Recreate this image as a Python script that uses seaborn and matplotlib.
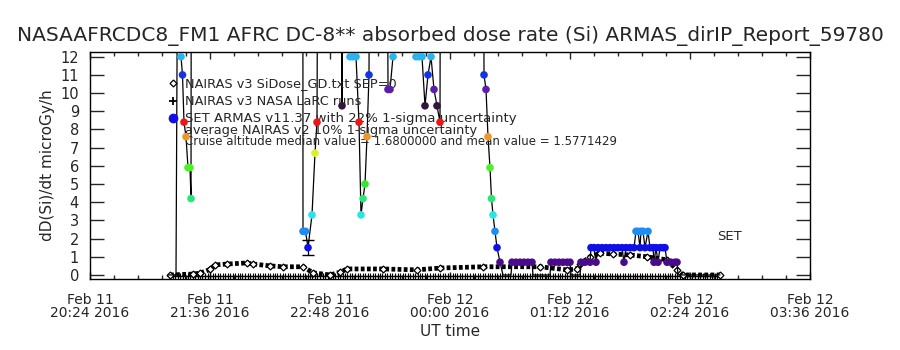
import matplotlib
matplotlib.use("Agg")
import matplotlib.pyplot as plt
import matplotlib.dates as mdates
import numpy as np
import pandas as pd
import seaborn as sns

# ---------------------------------------------------------------------------
# data (times are minutes after Feb 11 2016 20:24 UT)
# ---------------------------------------------------------------------------
t0 = pd.Timestamp("2016-02-11 20:24")

armas_min = [46.8, 49.2, 51.6, 53.7, 54.6, 55.5, 56.4, 57.6, 58.8, 60.0, 60.6, 61.0,
             127.6, 127.8, 129.3, 130.8, 133.2, 135.0, 136.2, 137.4,
             150.9, 151.2, 151.5, 155.4, 156.0, 157.8, 159.6, 161.4, 162.6, 163.8,
             165.0, 166.2, 167.4, 168.6,
             177.6, 178.8, 180.0, 181.8, 182.4,
             194.4, 195.6, 197.4, 199.2, 201.0, 202.8, 204.6, 206.4, 208.2, 210.0, 210.6,
             235.8, 236.4, 237.6, 238.8, 240.0, 240.9, 241.8, 243.0, 244.2, 246.0,
             247.8, 252.6, 253.2, 255.6, 258.0, 260.4, 262.8, 265.2, 265.8,
             276.0, 276.6, 279.0, 281.4, 283.8, 286.2, 288.0, 288.6,
             294.0, 294.6, 297.0, 300.0, 300.6, 302.4, 303.6, 304.8, 307.2, 309.6,
             312.0, 314.4, 316.8, 319.2, 320.4, 321.6, 324.0, 326.4, 327.6, 328.8,
             330.0, 330.6, 331.8, 333.0, 334.8, 336.0, 337.8, 338.4, 339.6, 340.8,
             342.0, 343.8, 345.0, 346.2, 348.6, 351.0, 352.2, 352.8, 366.0, 378.0]
armas_val = [0, 0, 0, 40, 12.0, 11.0, 8.4, 7.6, 5.9, 5.9, 4.2, 40,
             40, 2.4, 2.4, 1.5, 3.3, 6.7, 8.4, 40,
             40, 9.3, 40, 40, 12.0, 12.0, 12.0, 8.4, 3.3, 4.2,
             5.0, 7.6, 11.0, 40,
             40, 10.2, 10.2, 12.0, 40,
             40, 12.0, 12.0, 12.0, 9.3, 11.0, 12.0, 10.2, 9.3, 8.4, 40,
             40, 11.0, 10.2, 7.6, 5.9, 4.2, 3.3, 2.4, 1.5, 0.7,
             0, 0, 0.7, 0.7, 0.7, 0.7, 0.7, 0.7, 0,
             0, 0.7, 0.7, 0.7, 0.7, 0.7, 0.7, 0,
             0, 0.7, 0.7, 0.7, 1.5, 1.5, 0.7, 1.5, 1.5, 1.5,
             1.5, 1.5, 1.5, 1.5, 0.7, 1.5, 1.5, 1.5, 2.4, 2.4,
             1.5, 2.4, 2.4, 1.5, 2.4, 1.5, 1.5, 0.7, 1.5, 0.7,
             1.5, 1.5, 1.5, 0.7, 0.7, 0.7, 0.7, 0, 0, 0]

# single visible 22% uncertainty bar
err_min = [130.8]
err_val = [1.5]
err_sig = [0.4]

nairas_min = [48, 61.8, 66, 72, 75, 82.2, 94.2, 97.8, 108, 115.8, 127.8, 133.8, 144,
              150, 154.2, 175.8, 196.2, 210, 235.8, 270, 286.2, 292.2, 294, 300,
              306, 313.8, 324, 334.2, 346.2, 352.2, 355.8, 378]
nairas_val = [0.0, 0.05, 0.1, 0.3, 0.55, 0.6, 0.66, 0.6, 0.5, 0.45, 0.45, 0.12, 0.0,
              0.15, 0.33, 0.33, 0.28, 0.38, 0.45, 0.45, 0.28, 0.33, 0.6, 1.0,
              1.2, 1.15, 1.1, 1.0, 0.83, 0.28, 0.0, 0.0]

larc_min = np.arange(48, 378, 1.5)
larc_val = np.full(larc_min.size, -0.05)

# colour levels of ARMAS points (dose level step ~0.84)
level_colors = ["#000000", "#4b0a8c", "#1010e6", "#1e8cf0", "#28e6e6", "#28e678",
                "#32e632", "#50f028", "#dcf028", "#f09628", "#f01414", "#32143c",
                "#5a1eaa", "#1432e6", "#28b4f0"]

ytick_vals = list(range(0, 13))

title = "NASAAFRCDC8_FM1 AFRC DC-8** absorbed dose rate (Si) ARMAS_dirIP_Report_59780"
legend_lines = ["NAIRAS v3 SiDose_GD.txt SEP=0",
                "NAIRAS v3 NASA LaRC runs",
                "SET ARMAS v11.37 with 22% 1-sigma uncertainty",
                "average NAIRAS v2 10% 1-sigma uncertainty",
                "Cruise altitude median value = 1.6800000 and mean value = 1.5771429"]

# ---------------------------------------------------------------------------
sns.set_style("ticks")
plt.rcParams["font.family"] = ["DejaVu Sans"]


def to_time(m):
    return t0 + pd.to_timedelta(np.asarray(m, dtype=float), unit="min")


armas = pd.DataFrame({"t": to_time(armas_min), "v": armas_val})
armas["lvl"] = np.clip(np.round(armas["v"] / 0.84).astype(int), 0, 14)
nairas = pd.DataFrame({"t": to_time(nairas_min), "v": nairas_val})
larc = pd.DataFrame({"t": to_time(larc_min), "v": larc_val})

fig = plt.figure(figsize=(9, 3.5), dpi=100)
ax = fig.add_axes([0.1, 0.203, 0.8, 0.648])

# NASA LaRC runs (+)
ax.plot(larc["t"], larc["v"], color="black", lw=1.0, marker="+", ms=4, mew=0.8)

# NAIRAS v3 curve (diamonds)
sns.lineplot(data=nairas, x="t", y="v", ax=ax, color="black", lw=3.4,
             linestyle=(0, (0.8, 0.5)), estimator=None, sort=False)
ax.plot(nairas["t"], nairas["v"], ls="none", marker="D", ms=3.5, mfc="white",
        mec="black", mew=0.9)

# ARMAS line + coloured points
sns.lineplot(data=armas, x="t", y="v", ax=ax, color="black", lw=0.9,
             estimator=None, sort=False)
pts = armas[(armas["v"] > 0.1) & (armas["v"] <= 12.3)]
sns.scatterplot(data=pts, x="t", y="v", hue="lvl", ax=ax, legend=False,
                palette={i: c for i, c in enumerate(level_colors)},
                s=30, edgecolor="none", zorder=5)
ax.errorbar(to_time(err_min), err_val, yerr=err_sig, fmt="none",
            ecolor="black", elinewidth=0.9, capsize=4, zorder=4)

# axes
ax.set_xlim(t0, t0 + pd.Timedelta(minutes=432))
ax.set_ylim(-0.22, 12.25)
ax.set_xticks(pd.date_range(t0, periods=7, freq="72min"))
ax.set_xticks(pd.date_range(t0, periods=31, freq="864s"), minor=True)
ax.xaxis.set_major_formatter(mdates.DateFormatter("%b %d\n%H:%M %Y"))
ax.set_yticks(ytick_vals)
ax.tick_params(axis="x", which="major", direction="in", length=5, width=1,
               top=True, labelsize=10, pad=10)
ax.tick_params(axis="x", which="minor", direction="in", length=3, width=1, top=True)
ax.tick_params(axis="y", which="major", direction="in", length=10, width=1,
               right=True, labelsize=10.5, pad=8)
plt.setp(ax.get_xticklabels(), linespacing=0.95)
for s in ax.spines.values():
    s.set_linewidth(1)
    s.set_color("black")

ax.set_xlabel("UT time", fontsize=11, labelpad=3)
ax.set_ylabel("dD(Si)/dt microGy/h", fontsize=11, labelpad=4)
fig.text(0.5, 0.898, title, ha="center", va="center", fontsize=14.5)

# legend text
ys = [0.863, 0.784, 0.709, 0.655, 0.604]
sizes = [9.3, 9.3, 9.5, 9.3, 8.5]
for y, txt, fs in zip(ys, legend_lines, sizes):
    ax.text(0.132, y, txt, transform=ax.transAxes, fontsize=fs, va="center", ha="left")
ax.plot([0.115], [ys[0]], transform=ax.transAxes, marker="D", ms=3.5, mfc="white",
        mec="black", mew=0.9, ls="none", clip_on=False)
ax.plot([0.115], [ys[1]], transform=ax.transAxes, marker="+", ms=6, mew=1.3,
        color="black", ls="none", clip_on=False)
ax.plot([0.115], [ys[2]], transform=ax.transAxes, marker="o", ms=6,
        color="#1010e6", ls="none", clip_on=False)
ax.text(0.871, 0.185, "SET", transform=ax.transAxes, fontsize=9.5, va="center")

fig.savefig("out.png", dpi=100)
